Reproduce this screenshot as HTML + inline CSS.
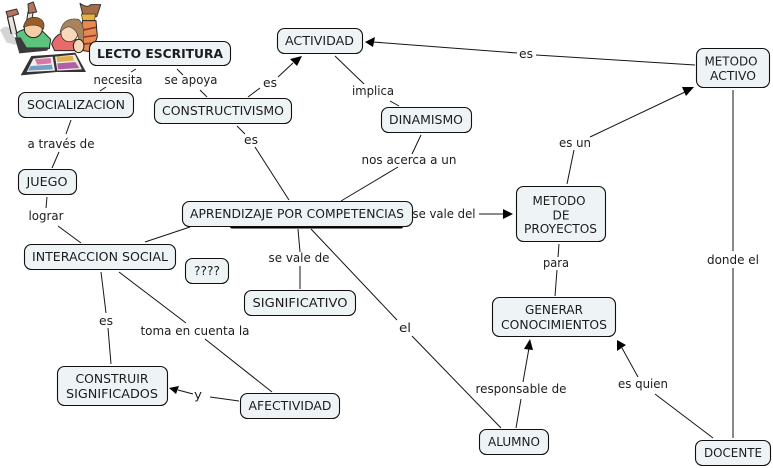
<!DOCTYPE html>
<html><head><meta charset="utf-8"><style>
html,body{margin:0;padding:0;background:#fff}
svg{display:block}
text{font-family:"DejaVu Sans",sans-serif;font-size:12px;fill:#1c1c1c;text-anchor:middle}
.n{fill:#eef3f6;stroke:#111;stroke-width:1.1}
.l{stroke:#151515;stroke-width:1;fill:none}
</style></head><body>
<svg width="773" height="468" viewBox="0 0 773 468" xmlns="http://www.w3.org/2000/svg">
<!-- illustration -->
<g transform="scale(.33333)" stroke-linejoin="round">
<path d="M0 90 Q20 70 35 90 L52 135 L20 128Z" fill="#d4d4d4"/>
<path d="M30 48 L42 100" stroke="#222" stroke-width="20" fill="none"/>
<path d="M30 48 L42 100" stroke="#e8e4dc" stroke-width="13" fill="none"/>
<path d="M18 35 L50 27 L56 42 L24 52Z" fill="#b8725e" stroke="#333" stroke-width="3"/>
<path d="M92 35 L86 72" stroke="#222" stroke-width="18" fill="none"/>
<path d="M92 35 L86 72" stroke="#e8e4dc" stroke-width="12" fill="none"/>
<path d="M84 12 L100 6 L110 36 L86 40Z" fill="#b8725e" stroke="#333" stroke-width="3"/>
<path d="M48 100 Q80 78 122 88 L152 118 L148 146 L100 148 L62 152Z" fill="#5cc47c" stroke="#222" stroke-width="3"/>
<path d="M44 112 L58 160 L142 152 L146 142 L80 142 L62 112Z" fill="#3a3a3a"/>
<circle cx="100" cy="86" r="27" fill="#f4cfa6" stroke="#222" stroke-width="3"/>
<path d="M70 82 Q78 44 116 54 Q138 64 130 88 Q110 66 70 82Z" fill="#9a5f28" stroke="#333" stroke-width="2"/>
<path d="M240 10 Q262 26 272 14 L302 14 L290 50 L250 50Z" fill="#a86b48" stroke="#333" stroke-width="3"/>
<path d="M244 42 L286 42 L284 62 L248 62Z" fill="#e8b040" stroke="#333" stroke-width="2"/>
<path d="M248 62 L288 62 L292 110 L276 156 L238 150 L240 100Z" fill="#e88a50" stroke="#222" stroke-width="3"/>
<path d="M250 90 L288 82 M246 112 L288 106 M244 132 L280 130" stroke="#8a3a30" stroke-width="5" fill="none"/>
<path d="M155 132 Q170 92 210 100 L240 130 L226 152 L164 152Z" fill="#e86a6a" stroke="#222" stroke-width="3"/>
<circle cx="208" cy="100" r="25" fill="#f8d8b8" stroke="#222" stroke-width="2"/>
<path d="M180 98 Q188 50 236 58 Q256 76 250 128 L236 126 Q236 88 206 80 Q190 84 180 98Z" fill="#a8845c" stroke="#444" stroke-width="2"/>
<ellipse cx="236" cy="138" rx="16" ry="20" fill="#f8d8b8" stroke="#222" stroke-width="3"/>
<path d="M62 226 L94 168 L160 164 L226 158 L258 216 L170 216Z" fill="#333"/>
<path d="M80 216 L100 176 L158 170 L165 212Z" fill="#f5f0e8"/>
<path d="M165 170 L225 164 L246 208 L172 212Z" fill="#f0ead8"/>
<path d="M104 178 L152 174 L154 190 L112 194Z" fill="#d878a8"/>
<path d="M92 198 L156 194 L158 208 L84 212Z" fill="#70a0c8"/>
<path d="M170 170 L218 168 L222 182 L172 186Z" fill="#e0b050"/>
<path d="M172 190 L226 186 L238 204 L174 208Z" fill="#b060a8"/>
</g>

<!-- connectors -->
<path class="l" d="M136 69 L131 72 M106 87 L100 91"/>
<path class="l" d="M177 69 L183 75 M200 90 L207 97"/>
<path class="l" d="M71 120 L66 134 M59 152 L52 168"/>
<path class="l" d="M47 197 L46 208 M58 226 L81 243"/>
<path class="l" d="M248 97 L260 88 M278 77 L293 63"/>
<path class="l" d="M335 56 L364 84 M390 101 L399 106"/>
<path class="l" d="M237 126 L245 134 M255 147 L289 200"/>
<path class="l" d="M421 135 L412 154 M398 167 L341 201"/>
<path class="l" d="M190 227 L145 242"/>
<path class="l" d="M298 229 L300 252 M300 266 L300 289"/>
<path class="l" d="M311 229 L397 320 M412 336 L501 428"/>
<path class="l" d="M479 214 L504 214"/>
<path class="l" d="M101 272 L106 313 M108 328 L111 364"/>
<path class="l" d="M119 272 L186 323 M205 339 L272 392"/>
<path class="l" d="M239 401 L210 397 M193 394 L178 390"/>
<path class="l" d="M559 244 L558 257 M557 270 L555 296"/>
<path class="l" d="M567 184 L574 150 M590 137 L685 92"/>
<path class="l" d="M695 65 L536 55 M517 53 L373 42"/>
<path class="l" d="M733 90 L733 251 M733 268 L733 438"/>
<path class="l" d="M516 428 L521 399 M523 382 L529 348"/>
<path class="l" d="M713 438 L655 394 M638 377 L622 348"/>

<!-- arrowheads -->
<path fill="#000" d="M302 56 L290 59 L297 66Z"/>
<path fill="#000" d="M365 42 L375 37 L373 47Z"/>
<path fill="#000" d="M694 87 L682 87 L686 96Z"/>
<path fill="#000" d="M513 214 L503 209 L503 219Z"/>
<path fill="#000" d="M530 339 L524 349 L533 350Z"/>
<path fill="#000" d="M617 340 L617 351 L626 345Z"/>
<path fill="#000" d="M169 388 L179 386 L176 394Z"/>

<!-- nodes -->
<rect x="230" y="224" width="173" height="4.500" rx="2" fill="#000"/>
<rect class="n" x="89.500" y="41.500" width="141" height="24" rx="7"/>
<rect class="n" x="277.500" y="28.500" width="85" height="25" rx="7"/>
<rect class="n" x="18.500" y="92.500" width="115" height="25" rx="7"/>
<rect class="n" x="154.500" y="98.500" width="137" height="25" rx="7"/>
<rect class="n" x="381.500" y="107.500" width="90" height="25" rx="7"/>
<rect class="n" x="18.500" y="169.500" width="58" height="25" rx="7"/>
<rect class="n" x="182.500" y="201.500" width="230" height="25" rx="7"/>
<rect class="n" x="24.500" y="244.500" width="151" height="25" rx="7"/>
<rect class="n" x="185.500" y="258.500" width="43" height="25" rx="7"/>
<rect class="n" x="244.500" y="290.500" width="111" height="25" rx="7"/>
<rect class="n" x="57.500" y="366.500" width="110" height="39" rx="7"/>
<rect class="n" x="240.500" y="393.500" width="99" height="25" rx="7"/>
<rect class="n" x="479.500" y="429.500" width="69" height="25" rx="7"/>
<rect class="n" x="492.500" y="297.500" width="123" height="39" rx="7"/>
<rect class="n" x="516.500" y="186.500" width="89" height="55" rx="7"/>
<rect class="n" x="696.500" y="48.500" width="73" height="39" rx="7"/>
<rect class="n" x="695.500" y="440.500" width="75" height="25" rx="7"/>

<!-- node text -->
<text x="160" y="58" textLength="126" lengthAdjust="spacingAndGlyphs" style="font-weight:bold">LECTO ESCRITURA</text>
<text x="319.500" y="45" textLength="69" lengthAdjust="spacingAndGlyphs">ACTIVIDAD</text>
<text x="76" y="109" textLength="98" lengthAdjust="spacingAndGlyphs">SOCIALIZACION</text>
<text x="223" y="115" textLength="122" lengthAdjust="spacingAndGlyphs">CONSTRUCTIVISMO</text>
<text x="426" y="124" textLength="74" lengthAdjust="spacingAndGlyphs">DINAMISMO</text>
<text x="47" y="186" textLength="41" lengthAdjust="spacingAndGlyphs">JUEGO</text>
<text x="297" y="218" textLength="214" lengthAdjust="spacingAndGlyphs">APRENDIZAJE POR COMPETENCIAS</text>
<text x="100" y="261" textLength="136" lengthAdjust="spacingAndGlyphs">INTERACCION SOCIAL</text>
<text x="207" y="275" textLength="26" lengthAdjust="spacingAndGlyphs">????</text>
<text x="300" y="307" textLength="95" lengthAdjust="spacingAndGlyphs">SIGNIFICATIVO</text>
<text x="112" y="383" textLength="73" lengthAdjust="spacingAndGlyphs">CONSTRUIR</text>
<text x="112" y="398" textLength="92" lengthAdjust="spacingAndGlyphs">SIGNIFICADOS</text>
<text x="290" y="410" textLength="83" lengthAdjust="spacingAndGlyphs">AFECTIVIDAD</text>
<text x="514" y="446" textLength="52" lengthAdjust="spacingAndGlyphs">ALUMNO</text>
<text x="554" y="314" textLength="58" lengthAdjust="spacingAndGlyphs">GENERAR</text>
<text x="554" y="329" textLength="106" lengthAdjust="spacingAndGlyphs">CONOCIMIENTOS</text>
<text x="559" y="205" textLength="53" lengthAdjust="spacingAndGlyphs">METODO</text>
<text x="561" y="219.500" textLength="17" lengthAdjust="spacingAndGlyphs">DE</text>
<text x="560.500" y="233" textLength="73" lengthAdjust="spacingAndGlyphs">PROYECTOS</text>
<text x="731" y="65.500" textLength="53" lengthAdjust="spacingAndGlyphs">METODO</text>
<text x="733" y="80" textLength="46" lengthAdjust="spacingAndGlyphs">ACTIVO</text>
<text x="733" y="457" textLength="58" lengthAdjust="spacingAndGlyphs">DOCENTE</text>

<!-- link labels -->
<text x="118" y="84" textLength="49" lengthAdjust="spacingAndGlyphs">necesita</text>
<text x="191" y="84" textLength="53" lengthAdjust="spacingAndGlyphs">se apoya</text>
<text x="61" y="148" textLength="67" lengthAdjust="spacingAndGlyphs">a través de</text>
<text x="46" y="220" textLength="35" lengthAdjust="spacingAndGlyphs">lograr</text>
<text x="270" y="87" textLength="14" lengthAdjust="spacingAndGlyphs">es</text>
<text x="373" y="95" textLength="42" lengthAdjust="spacingAndGlyphs">implica</text>
<text x="251" y="144" textLength="14" lengthAdjust="spacingAndGlyphs">es</text>
<text x="409" y="164" textLength="95" lengthAdjust="spacingAndGlyphs">nos acerca a un</text>
<text x="444" y="218" textLength="63" lengthAdjust="spacingAndGlyphs">se vale del</text>
<text x="299" y="262" textLength="61" lengthAdjust="spacingAndGlyphs">se vale de</text>
<text x="405" y="332" textLength="12" lengthAdjust="spacingAndGlyphs">el</text>
<text x="106" y="325" textLength="14" lengthAdjust="spacingAndGlyphs">es</text>
<text x="195" y="335" textLength="109" lengthAdjust="spacingAndGlyphs">toma en cuenta la</text>
<text x="198" y="399" textLength="8" lengthAdjust="spacingAndGlyphs">y</text>
<text x="556" y="267" textLength="26" lengthAdjust="spacingAndGlyphs">para</text>
<text x="575" y="147" textLength="32" lengthAdjust="spacingAndGlyphs">es un</text>
<text x="526" y="58" textLength="14" lengthAdjust="spacingAndGlyphs">es</text>
<text x="733" y="264" textLength="52" lengthAdjust="spacingAndGlyphs">donde el</text>
<text x="521" y="393" textLength="91" lengthAdjust="spacingAndGlyphs">responsable de</text>
<text x="643" y="388" textLength="50" lengthAdjust="spacingAndGlyphs">es quien</text>
</svg>
</body></html>
